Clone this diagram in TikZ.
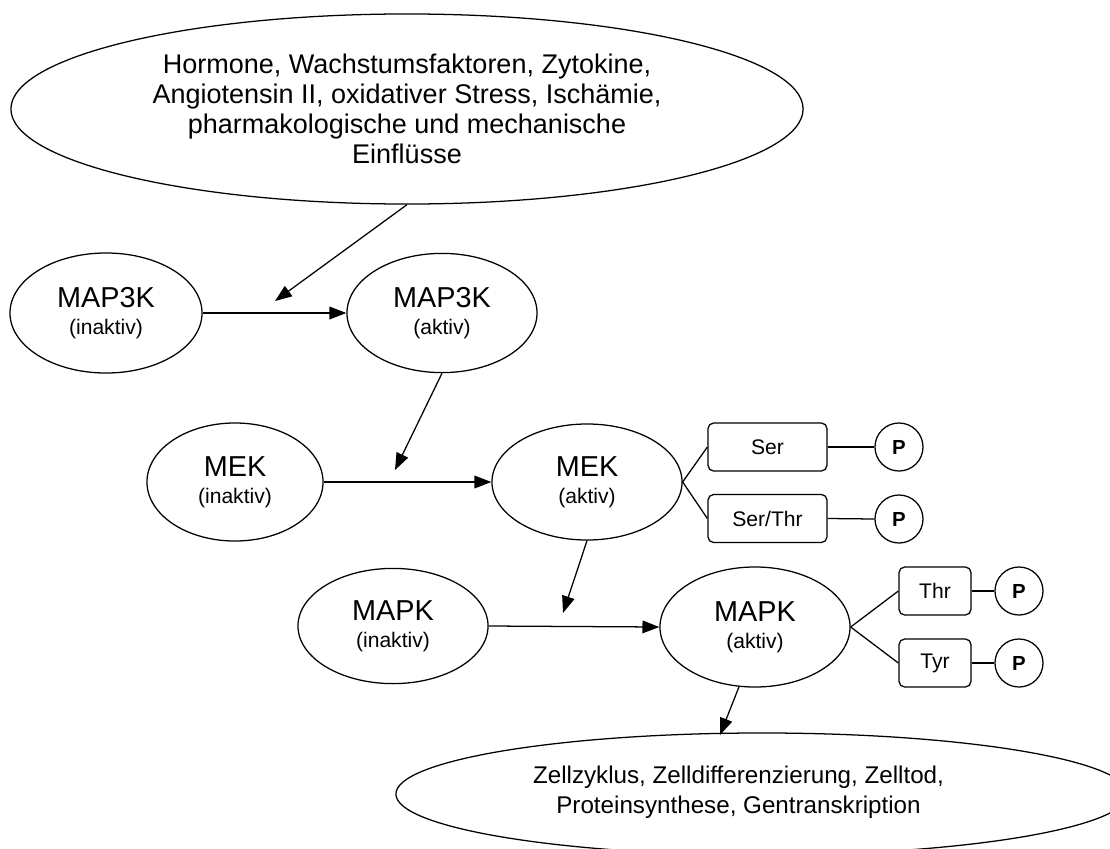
\documentclass[tikz,border=0pt]{standalone}
\usepackage{fontspec}
\setmainfont{Liberation Sans}
\usetikzlibrary{shapes.geometric,arrows.meta}
\begin{document}
\begin{tikzpicture}[x=0.025cm,y=-0.025cm,
  ell/.style={draw,ellipse,line width=0.9pt,inner sep=0pt,align=center},
  big/.style={ell,font=\fontsize{19.2}{21.3}\selectfont},
  kin/.style={ell,font=\fontsize{20.5}{19}\selectfont},
  res/.style={draw,rounded corners=4pt,line width=0.9pt,minimum height=1.2cm,inner sep=0pt,font=\fontsize{15}{18}\selectfont},
  pho/.style={draw,circle,line width=0.9pt,minimum size=1.2cm,inner sep=0pt,font=\fontsize{14.5}{17}\selectfont\bfseries},
  arr/.style={line width=0.9pt,-{Triangle[length=12pt,width=9pt]}},
  lnk/.style={line width=0.9pt}]
\newcommand{\subtxt}[1]{{\fontsize{15}{18}\selectfont #1}}
\useasboundingbox (0,0) rectangle (1110,848);
\clip (0,0) rectangle (1110,848);

% top ellipse
\node[big,minimum width=19.8cm,minimum height=4.75cm] (top) at (407,109)
  {Hormone, Wachstumsfaktoren, Zytokine,\\Angiotensin II, oxidativer Stress, Ischämie,\\pharmakologische und mechanische\\Einflüsse};

% kinases
\node[kin,minimum width=4.8cm,minimum height=3.0cm] (m3i) at (106,313) {MAP3K\\\subtxt{(inaktiv)}};
\node[kin,minimum width=4.75cm,minimum height=2.98cm] (m3a) at (442,313) {MAP3K\\\subtxt{(aktiv)}};
\node[kin,minimum width=4.4cm,minimum height=2.95cm] (meki) at (235,482) {MEK\\\subtxt{(inaktiv)}};
\node[kin,minimum width=4.75cm,minimum height=2.9cm] (meka) at (587,482) {MEK\\\subtxt{(aktiv)}};
\node[kin,minimum width=4.75cm,minimum height=2.88cm] (mapki) at (393,626) {MAPK\\\subtxt{(inaktiv)}};
\node[kin,minimum width=4.75cm,minimum height=3.0cm] (mapka) at (755,627) {MAPK\\\subtxt{(aktiv)}};

% bottom ellipse
\node[ell,minimum width=18.3cm,minimum height=3.05cm] (out) at (762,794) {};
\node[font=\fontsize{17.2}{21.3}\selectfont,align=center,inner sep=0pt] (outtxt) at (738.5,792)
  {Zellzyklus, Zelldifferenzierung, Zelltod,\\Proteinsynthese, Gentranskription};

% residues and phosphates
\node[res,minimum width=2.975cm] (ser) at (767.5,447) {Ser};
\node[res,minimum width=2.975cm] (serthr) at (767.5,518.5) {Ser/Thr};
\node[res,minimum width=1.8cm] (thr) at (935,591) {Thr};
\node[res,minimum width=1.8cm] (tyr) at (935,663) {Tyr};
\node[pho] (p1) at (899,447) {P};
\node[pho] (p2) at (899,519) {P};
\node[pho] (p3) at (1019,591) {P};
\node[pho] (p4) at (1019,663) {P};

% free arrow ends
\coordinate (c1) at (275,301);
\coordinate (c2) at (395,470);
\coordinate (c3) at (563,613);
\coordinate (c4) at (720,735);

% connectors
\draw[arr] (top.south) -- (c1);
\draw[arr] (m3i.east) -- (m3a.west);
\draw[arr] (m3a.south) -- (c2);
\draw[arr] (meki.east) -- (meka.west);
\draw[arr] (meka.south) -- (c3);
\draw[arr] (mapki.east) -- (mapka.west);
\draw[arr] (mapka.255) -- (c4);

\draw[lnk] (meka.east) -- (ser.west);
\draw[lnk] (meka.east) -- (serthr.west);
\draw[lnk] (mapka.east) -- (thr.west);
\draw[lnk] (mapka.east) -- (tyr.west);
\draw[lnk] (ser.east) -- (p1.west);
\draw[lnk] (serthr.east) -- (p2.west);
\draw[lnk] (thr.east) -- (p3.west);
\draw[lnk] (tyr.east) -- (p4.west);
\end{tikzpicture}
\end{document}
